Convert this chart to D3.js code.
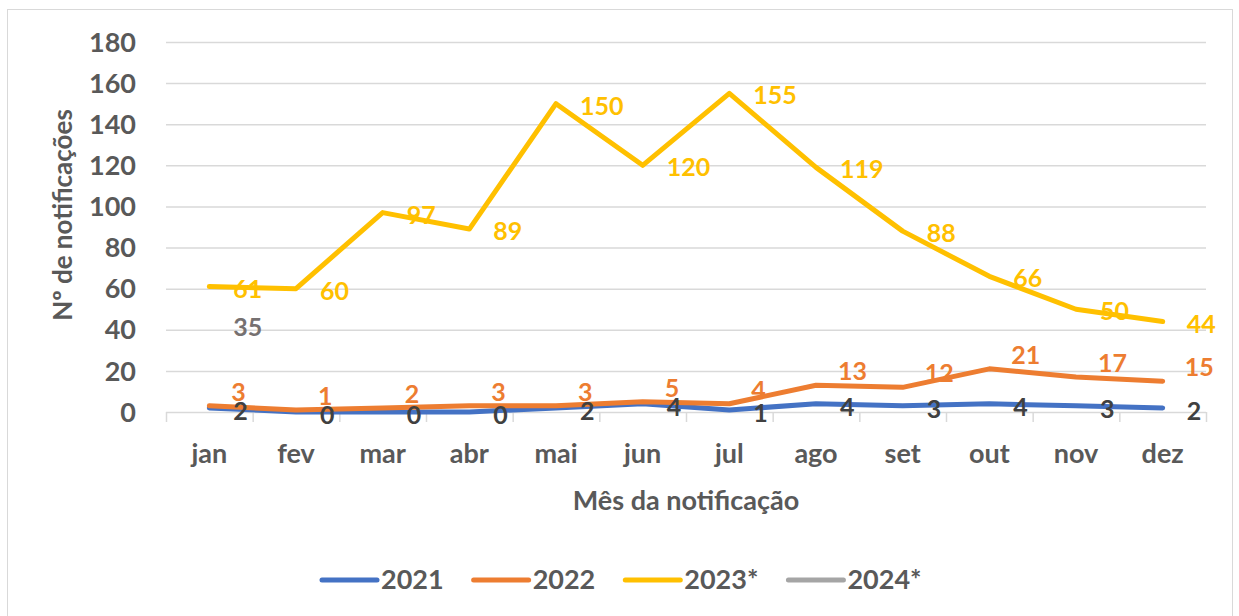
<!DOCTYPE html>
<meta charset="utf-8">
<style>
  body { margin: 0; background: #fff; }
  text { font-family: Lato, "Open Sans", sans-serif; font-weight: bold; }
</style>
<svg width="1239" height="616"></svg>
<script src="https://d3js.org/d3.v7.min.js"></script>
<script>
var months = ["jan", "fev", "mar", "abr", "mai", "jun", "jul", "ago", "set", "out", "nov", "dez"]
var v2021 = [2, 0, 0, 0, 2, 4, 1, 4, 3, 4, 3, 2]
var v2022 = [3, 1, 2, 3, 3, 5, 4, 13, 12, 21, 17, 15]
var v2023 = [61, 60, 97, 89, 150, 120, 155, 119, 88, 66, 50, 44]
var v2024 = [35, null, null, null, null, null, null, null, null, null, null, null]
var seriesNames = ["2021", "2022", "2023*", "2024*"]
var yTicks = [0, 20, 40, 60, 80, 100, 120, 140, 160, 180]

var series = [
  { name: seriesNames[0], values: v2021, color: "#4472C4", label: "#404040", dx: 24, dy: 3 },
  { name: seriesNames[1], values: v2022, color: "#ED7D31", label: "#ED7D31", dx: 22, dy: -14 },
  { name: seriesNames[2], values: v2023, color: "#FFC000", label: "#FFC000", dx: 24, dy: 2 },
  { name: seriesNames[3], values: v2024, color: "#A5A5A5", label: "#767171", dx: 24, dy: -13 }
]

var svg = d3.select("svg")

// chart frame
svg.append("rect")
  .attr("x", 7.5).attr("y", 9.5)
  .attr("width", 1225).attr("height", 620)
  .attr("fill", "#fff").attr("stroke", "#d9d9d9")

var x = d3.scaleBand().domain(months).range([166, 1206])
var y = d3.scaleLinear().domain([0, 180]).range([412, 42])

// gridlines
svg.append("g")
  .selectAll("line")
  .data(yTicks.filter(function (d) { return d > 0 }))
  .enter().append("line")
    .attr("x1", 166).attr("x2", 1206)
    .attr("y1", function (d) { return y(d) + 0.5 })
    .attr("y2", function (d) { return y(d) + 0.5 })
    .attr("stroke", "#d9d9d9").attr("stroke-width", 1.5)

// y tick labels
svg.append("g")
  .selectAll("text")
  .data(yTicks)
  .enter().append("text")
    .attr("x", 136)
    .attr("y", function (d) { return y(d) })
    .attr("dy", "0.36em")
    .attr("text-anchor", "end")
    .attr("font-size", 27)
    .attr("fill", "#595959")
    .text(function (d) { return d })

// x axis
var xAxis = svg.append("g")
xAxis.append("line")
  .attr("x1", 166).attr("x2", 1206)
  .attr("y1", 412.5).attr("y2", 412.5)
  .attr("stroke", "#d9d9d9").attr("stroke-width", 1.5)
xAxis.selectAll("line.tick")
  .data(months.concat(["end"]))
  .enter().append("line")
    .attr("class", "tick")
    .attr("x1", function (d, i) { return 166.5 + i * x.bandwidth() })
    .attr("x2", function (d, i) { return 166.5 + i * x.bandwidth() })
    .attr("y1", 412).attr("y2", 422)
    .attr("stroke", "#d9d9d9").attr("stroke-width", 1.5)
xAxis.selectAll("text")
  .data(months)
  .enter().append("text")
    .attr("x", function (d) { return x(d) + x.bandwidth() / 2 })
    .attr("y", 463)
    .attr("text-anchor", "middle")
    .attr("font-size", 27)
    .attr("fill", "#595959")
    .text(function (d) { return d })

// axis titles
svg.append("text")
  .attr("x", 686).attr("y", 510)
  .attr("text-anchor", "middle")
  .attr("font-size", 27)
  .attr("fill", "#595959")
  .text("Mês da notificação")
svg.append("text")
  .attr("transform", "translate(72,215) rotate(-90)")
  .attr("text-anchor", "middle")
  .attr("font-size", 26)
  .attr("fill", "#595959")
  .text("Nº de notificações")

// lines (a single point draws nothing, as in the original)
var line = d3.line()
  .defined(function (d) { return d != null })
  .x(function (d, i) { return x(months[i]) + x.bandwidth() / 2 })
  .y(function (d) { return y(d) })

svg.append("g")
  .selectAll("path")
  .data(series.filter(function (s) {
    return s.values.filter(function (v) { return v != null }).length > 1
  }))
  .enter().append("path")
    .attr("d", function (s) { return line(s.values) })
    .attr("fill", "none")
    .attr("stroke", function (s) { return s.color })
    .attr("stroke-width", 5)
    .attr("stroke-linejoin", "round")
    .attr("stroke-linecap", "round")

// data labels
series.forEach(function (s) {
  svg.append("g")
    .selectAll("text")
    .data(s.values.map(function (v, i) { return { v: v, m: months[i] } }).filter(function (d) { return d.v != null }))
    .enter().append("text")
      .attr("x", function (d) { return x(d.m) + x.bandwidth() / 2 + s.dx })
      .attr("y", function (d) { return y(d.v) + s.dy })
      .attr("dy", "0.36em")
      .attr("font-size", 25)
      .attr("fill", s.label)
      .text(function (d) { return d.v })
})

// legend
var legend = svg.append("g")
var lx = 322
series.forEach(function (s) {
  legend.append("line")
    .attr("x1", lx).attr("x2", lx + 55)
    .attr("y1", 580).attr("y2", 580)
    .attr("stroke", s.color).attr("stroke-width", 5)
    .attr("stroke-linecap", "round")
  var t = legend.append("text")
    .attr("x", lx + 59).attr("y", 579)
    .attr("dy", "0.36em")
    .attr("font-size", 27)
    .attr("fill", "#595959")
    .text(s.name)
  lx += 59 + t.node().getComputedTextLength() + 30
})
</script>
